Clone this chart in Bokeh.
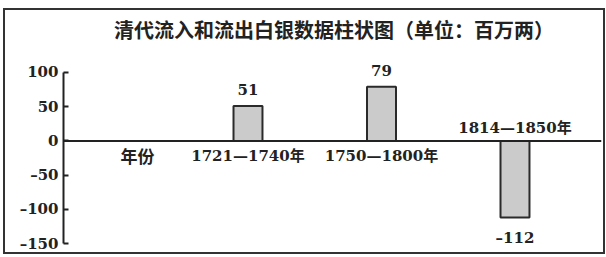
from bokeh.plotting import figure
from bokeh.models import ColumnDataSource, FixedTicker, Span, Range1d
from bokeh.core.properties import value
from bokeh.embed import file_html
from bokeh.resources import INLINE

# ---- data ----
title_text = "清代流入和流出白银数据柱状图（单位：百万两）"
categories = ["1721—1740年", "1750—1800年", "1814—1850年"]
silver = [51, 79, -112]
y_ticks = [-150, -100, -50, 0, 50, 100]
y_tick_labels = ["–150", "–100", "–50", "0", "50", "100"]
x_name = "年份"

SERIF = "'DejaVu Serif', 'Noto Sans CJK SC'"
CJK = "'Noto Sans CJK SC'"
INK = "#222222"

# ---- layout constants ----
Y_LO, Y_AXIS_HI, Y_VIEW_HI = -150, 100, 187.7
X_LO, X_HI = -0.382, 3.648
TITLE_X, TITLE_Y = 1.644, 163
NAME_X = 0.172

xs = [i + 1 for i in range(len(categories))]
tops = [max(v, 0) for v in silver]
bottoms = [min(v, 0) for v in silver]
lab_off = [-11 if v >= 0 else 11 for v in silver]
lab_base = ["bottom" if v >= 0 else "top" for v in silver]
cat_off = [15 if v >= 0 else -13 for v in silver]
src = ColumnDataSource(dict(x=xs, top=tops, bottom=bottoms, val=silver,
                            lab=[str(v).replace("-", "–") for v in silver],
                            loff=lab_off, lbase=lab_base, cat=categories,
                            coff=cat_off, zero=[0] * len(silver)))

p = figure(width=598, height=242, output_backend="svg", toolbar_location=None,
           x_range=Range1d(X_LO, X_HI), y_range=Range1d(Y_LO, Y_VIEW_HI),
           x_axis_location=None, min_border_left=58, min_border_right=2,
           min_border_top=2, min_border_bottom=9)
p.margin = (10, 0, 0, 5)
p.styles = {"outline": "2px solid #333333", "outline-offset": "0px"}
p.outline_line_color = None
p.grid.visible = False
p.background_fill_color = "white"
p.border_fill_color = "white"

ax = p.yaxis[0]
ax.ticker = FixedTicker(ticks=y_ticks)
ax.major_label_overrides = {t: s for t, s in zip(y_ticks, y_tick_labels)}
ax.bounds = (Y_LO, Y_AXIS_HI)
ax.axis_line_width = 2
ax.axis_line_color = INK
ax.major_tick_in = 5
ax.major_tick_out = 0
ax.major_tick_line_width = 2
ax.major_tick_line_color = INK
ax.minor_tick_line_color = None
ax.major_label_text_font = SERIF
ax.major_label_text_font_size = "15px"
ax.major_label_text_font_style = "bold"
ax.major_label_text_color = INK
ax.major_label_standoff = 5

p.vbar(x="x", top="top", bottom="bottom", width=0.217, source=src,
       fill_color="#cbcbcb", line_color="#2a2a2a", line_width=2)

p.add_layout(Span(location=0, dimension="width", line_color=INK, line_width=2))

p.text(x="x", y="val", text="lab", y_offset="loff", text_baseline="lbase",
       text_align="center", source=src, text_font=value(SERIF),
       text_font_size="15px", text_font_style="bold", text_color=INK)

p.text(x="x", y="zero", text="cat", y_offset="coff", text_baseline="middle",
       text_align="center", source=src, text_font=value(SERIF),
       text_font_size="15px", text_font_style="bold", text_color=INK)

p.text(x=[NAME_X], y=[0], text=[x_name], y_offset=15, text_baseline="middle",
       text_align="center", text_font=value(CJK), text_font_size="17px",
       text_font_style="bold", text_color=INK)

p.text(x=[TITLE_X], y=[TITLE_Y], text=[title_text], text_baseline="middle",
       text_align="center", text_font=value(CJK), text_font_size="20px",
       text_font_style="bold", text_color=INK)

open("out.html", "w").write(file_html(p, INLINE))
